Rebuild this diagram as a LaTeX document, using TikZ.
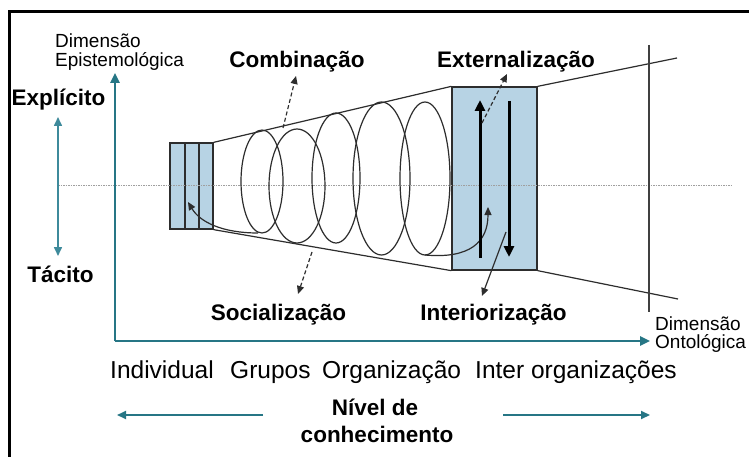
\documentclass[tikz,border=0pt]{standalone}
\usepackage{fontspec}
\setmainfont{Liberation Sans}
\usetikzlibrary{arrows.meta}
\definecolor{tealax}{RGB}{38,118,133}
\definecolor{tealarr}{RGB}{62,138,155}
\definecolor{boxblue}{RGB}{183,211,228}
\definecolor{dk}{RGB}{45,45,45}
\begin{document}
\begin{tikzpicture}[x=1pt,y=-1pt,
  axisline/.style={draw=tealax, line width=2.4pt},
  axtip/.style={-{Triangle[length=10pt,width=9pt]}},
  conel/.style={draw=dk, line width=1.2pt},
  boxs/.style={draw=dk, fill=boxblue, line width=1.3pt, inner sep=0pt},
  dashedarrow/.style={draw=dk, line width=1.2pt, dash pattern=on 4pt off 2.5pt, -{Triangle[length=8pt,width=7pt]}},
  thinarrow/.style={draw=dk, line width=1.2pt, -{Triangle[length=8pt,width=7pt]}},
  thickarrow/.style={draw=black, line width=3pt, -{Triangle[length=11pt,width=10pt]}},
  lbl/.style={font=\fontsize{22.5}{26}\selectfont\bfseries, inner sep=0pt},
  sm/.style={font=\fontsize{19}{22}\selectfont, inner sep=0pt},
  lvl/.style={font=\fontsize{24.5}{28}\selectfont, inner sep=0pt}]
\useasboundingbox (0,0) rectangle (749,457);
\fill[white] (0,0) rectangle (749,457);
% frame
\draw[line width=2.8pt] (9.5,470) -- (9.5,11.5) -- (760,11.5);

% boxes
\node[boxs, minimum width=43pt, minimum height=86pt] (sbox) at (191.5,186) {};
\draw[dk, line width=1.8pt] ([xshift=-6.5pt]sbox.north) -- ([xshift=-6.5pt]sbox.south);
\draw[dk, line width=1.8pt] ([xshift=7.5pt]sbox.north) -- ([xshift=7.5pt]sbox.south);
\node[boxs, minimum width=85pt, minimum height=183pt] (bbox) at (494.5,178.5) {};

% dotted middle line
\coordinate (mlL) at (58,185);
\coordinate (mlR) at (733,185);
\draw[gray!75, line width=0.8pt, dash pattern=on 1.5pt off 1pt] (mlL) -- (mlR);

% cone
\coordinate (topend) at (677,58);
\coordinate (botend) at (678,299);
\draw[conel] (sbox.north east) -- (bbox.north west);
\draw[conel] (sbox.south east) -- (bbox.south west);
\draw[conel] (bbox.north east) -- (topend);
\draw[conel] (bbox.south east) -- (botend);

% ontological line
\coordinate (ont1) at (649,45);
\coordinate (ont2) at (649,312);
\draw[gray!50!black, line width=1.2pt] (ont1) -- (ont2);

% spiral loops
\draw[conel] (262,181.5) ellipse [x radius=21pt, y radius=51.5pt];
\draw[conel] (297,186) ellipse [x radius=28pt, y radius=57pt];
\draw[conel] (336,178) ellipse [x radius=24pt, y radius=65pt];
\draw[conel] (381.5,178.5) ellipse [x radius=28.5pt, y radius=76.5pt];
\draw[conel] (425,178.5) ellipse [x radius=25pt, y radius=76.5pt];

% spiral ends
\coordinate (spL) at (258,233);
\coordinate (spLtip) at (188,202);
\draw[thinarrow] (spL) .. controls (222,233) and (200,222) .. (spLtip);
\coordinate (spR) at (425,255);
\coordinate (spRtip) at (488,207);
\draw[thinarrow] (spR) .. controls (470,259) and (488,242) .. (spRtip);

% thick arrows in big box
\coordinate (upS) at (480,258);
\coordinate (upE) at (480,100);
\coordinate (dnS) at (509,101);
\coordinate (dnE) at (509,257);
\draw[thickarrow] (upS) -- (upE);
\draw[thickarrow] (dnS) -- (dnE);

% axes
\coordinate (corner) at (115,341);
\coordinate (ytip) at (115,73);
\coordinate (xtip) at (650,341);
\draw[axisline, axtip] (corner) -- (ytip);
\draw[axisline, axtip] (corner) -- (xtip);

% explicito / tacito arrow
\coordinate (eT) at (58,117);
\coordinate (eB) at (58,256);
\draw[tealarr, line width=1.6pt, {Triangle[length=9pt,width=8pt]}-{Triangle[length=9pt,width=8pt]}] (eT) -- (eB);

% labels
\node[lbl, anchor=base] (expl) at (58.5,106) {Explícito};
\node[lbl, anchor=base] (taci) at (60.5,282) {Tácito};
\node[sm, anchor=base west] (de1) at (55,48) {Dimensão};
\node[sm, anchor=base west] (de2) at (55,67) {Epistemológica};
\node[sm, anchor=base west] (do1) at (655,330) {Dimensão};
\node[sm, anchor=base west] (do2) at (655,348) {Ontológica};
\node[lbl, anchor=base] (comb) at (297,68) {Combinação};
\node[lbl, anchor=base] (exte) at (516,68) {Externalização};
\node[lbl, anchor=base] (soci) at (278.5,320) {Socialização};
\node[lbl, anchor=base] (inte) at (493.5,320) {Interiorização};

% dashed / thin label arrows
\coordinate (cS) at (283,128);
\coordinate (cE) at (296,76);
\draw[dashedarrow] (cS) -- (cE);
\coordinate (xS) at (482,123);
\coordinate (xE) at (507,74);
\draw[dashedarrow] (xS) -- (xE);
\coordinate (sS) at (312,252);
\coordinate (sE) at (298,294);
\draw[dashedarrow] (sS) -- (sE);
\coordinate (iS) at (506,232);
\coordinate (iE) at (482,296);
\draw[thinarrow] (iS) -- (iE);

% level labels
\node[lvl, anchor=base west] (ind) at (110,378) {Individual};
\node[lvl, anchor=base west] (gru) at (230,378) {Grupos};
\node[lvl, anchor=base west] (org) at (322,378) {Organização};
\node[lvl, anchor=base west] (iorg) at (475,378) {Inter organizações};

\node[lbl, anchor=base] (niv1) at (375,415) {Nível de};
\node[lbl, anchor=base] (niv2) at (377,442) {conhecimento};

% bottom arrows
\coordinate (bl1) at (263,415);
\coordinate (bl2) at (117,415);
\coordinate (br1) at (503,415);
\coordinate (br2) at (650,415);
\draw[tealax, line width=2pt, -{Triangle[length=9pt,width=8pt]}] (bl1) -- (bl2);
\draw[tealax, line width=2pt, -{Triangle[length=9pt,width=8pt]}] (br1) -- (br2);
\end{tikzpicture}
\end{document}
